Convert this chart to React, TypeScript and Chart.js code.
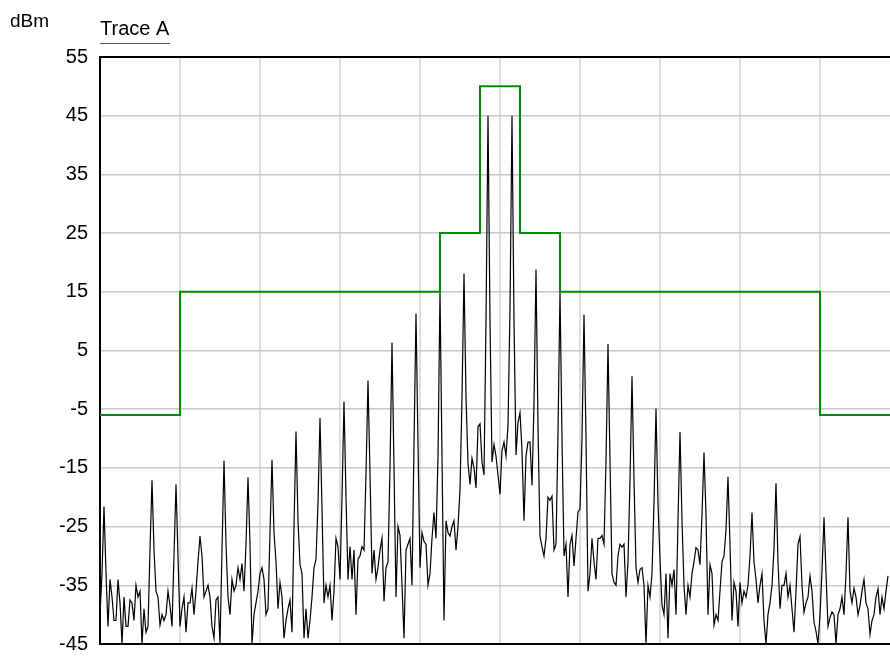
import React, { useEffect, useRef } from 'react';
import { Chart, registerables } from 'chart.js';

Chart.register(...registerables);

// y axis (dBm)
const Y_MIN = -45;
const Y_MAX = 55;
const Y_STEP = 10;

// x axis in grid divisions, centre = 0
const X_MIN = -5;
const X_MAX = 4.875;
const X_STEP = 1;

// limit mask (stepped)
const MASK_X = [-5, -4, -0.75, -0.25, 0.25, 0.75, 4, 4.875];
const MASK_DBM = [-6, 15, 25, 50, 25, 15, -6, -6];

// measured trace, uniformly sampled from X_MIN
const TRACE_START = -5;
const TRACE_STEP = 0.025;
const TRACE_DBM = [
  -40, -33, -21.6, -33, -42, -34, -37, -41, -41, -34,
  -38, -45, -37, -42, -42, -37.5, -38, -41, -35, -37,
  -36, -45, -39, -43, -42, -29, -17.1, -29, -36, -37,
  -41.8, -40, -41, -40, -36, -38.4, -42, -30, -17.8, -30,
  -42, -39, -37, -43, -38, -38, -35.5, -40, -36, -31,
  -26.6, -30, -37, -36, -35, -37, -42, -44, -37.5, -37,
  -45, -29, -13.8, -28, -37, -40, -34, -36, -35, -32,
  -34, -31.3, -36, -28, -16.6, -28, -45, -40, -38, -36,
  -33, -32, -34, -40, -39, -26, -13.6, -26, -31, -39,
  -34.5, -37, -44, -41, -39, -37.5, -43, -25, -8.8, -24,
  -31.5, -33, -44, -39, -44, -41, -37, -32, -30.6, -21,
  -6.5, -22, -38, -35, -37, -35, -41, -36, -27, -28.4,
  -34, -20, -3.7, -20, -34, -28.4, -34, -29, -40, -30.5,
  -30, -28.4, -29, -16, -0.1, -16, -33, -29, -34, -32,
  -29, -27, -37.7, -32, -31, -15, 6.3, -15, -37, -25,
  -26.5, -35, -44, -29, -28, -27, -35, -11, 11.3, -11,
  -32, -26, -27.5, -28, -35, -33, -27, -22.6, -27, -13,
  15.1, -13, -41, -24, -26, -26.6, -25, -24, -29, -25,
  -18.7, -3, 18.1, -3, -14.2, -17.8, -13.4, -15, -18.4, -8,
  -7.5, -14, -16.2, 10, 45, 10, -14, -11, -13, -16.2,
  -19.5, -12, -10.6, -13, -7.8, 12, 45, 10, -12.8, -7.3,
  -5.6, -12, -24, -13, -10.6, -10.6, -18, -4, 18.8, -8,
  -26.6, -28.4, -30, -27, -20, -20.5, -19.8, -29, -28, -9,
  15.1, -10, -30, -28, -37, -28, -26.5, -31.7, -27, -22.5,
  -22, -10, 11.1, -10, -36, -33, -27, -31, -34, -27,
  -27, -26.5, -28, -14, 6.1, -14, -33, -34.5, -35, -30,
  -28, -28.5, -28, -37, -31, -17, 0.6, -17, -32, -34.5,
  -32.3, -32, -35, -45, -35, -37, -33, -21, -4.9, -21,
  -30.6, -38.4, -40, -33, -44, -33, -35, -32.3, -40, -24,
  -8.9, -24, -35, -40, -35, -37, -33, -31, -28.6, -29,
  -31.5, -23, -12.4, -23, -40, -31.5, -33, -41.8, -40, -41,
  -36, -31, -30, -25.6, -16.5, -28, -41, -34.5, -36, -42,
  -34.5, -38, -36, -37, -35, -30, -22.6, -31, -34, -38,
  -35, -33, -41, -45, -40, -38, -35, -28.8, -17.6, -31,
  -39, -35, -35, -33, -37, -35, -39, -43, -36, -28,
  -26.7, -35, -39.6, -38, -37, -33.4, -36, -41.3, -42.8, -45,
  -40, -32.5, -23.4, -33, -42, -40.5, -39.5, -40, -45, -40,
  -39, -37, -40, -33, -23.4, -36, -38, -35.5, -37, -40,
  -38.5, -36, -34, -38, -39, -43.4, -41, -40, -37, -35.6,
  -40, -37, -39, -36, -33.4,
];

const FONT_FAMILY = '"Liberation Sans", Arial, Helvetica, sans-serif';

const headerPlugin = {
  id: 'headerText',
  afterDraw(chart: any) {
    const { ctx, chartArea } = chart;
    ctx.save();
    ctx.fillStyle = '#000';
    ctx.textBaseline = 'alphabetic';
    ctx.textAlign = 'left';
    ctx.font = `19px ${FONT_FAMILY}`;
    ctx.fillText('dBm', 10, 27);
    ctx.font = `20px ${FONT_FAMILY}`;
    ctx.fillText('Trace A', chartArea.left, 35);
    ctx.strokeStyle = '#555';
    ctx.lineWidth = 1;
    ctx.beginPath();
    ctx.moveTo(chartArea.left, 43.5);
    ctx.lineTo(chartArea.left + 70, 43.5);
    ctx.stroke();
    ctx.restore();
  },
};

export default function App() {
  const canvasRef = useRef<HTMLCanvasElement | null>(null);

  useEffect(() => {
    const canvas = canvasRef.current;
    if (!canvas) return;

    const traceData = TRACE_DBM.map((v, i) => ({ x: TRACE_START + i * TRACE_STEP, y: v }));
    const maskData = MASK_X.map((x, i) => ({ x, y: MASK_DBM[i] }));

    const chart = new Chart(canvas, {
      type: 'line',
      data: {
        datasets: [
          {
            label: 'Mask',
            data: maskData,
            borderColor: '#058a05',
            borderWidth: 2,
            stepped: true,
            pointRadius: 0,
            fill: false,
          },
          {
            label: 'Trace A',
            data: traceData,
            borderColor: '#000000',
            borderWidth: 1.2,
            pointRadius: 0,
            tension: 0,
            fill: false,
          },
        ],
      },
      options: {
        animation: false,
        responsive: false,
        devicePixelRatio: 1,
        layout: { padding: { left: 0, right: 0, top: 57, bottom: 12 } },
        plugins: {
          legend: { display: false },
          tooltip: { enabled: false },
          title: { display: false },
        },
        scales: {
          x: {
            type: 'linear',
            min: X_MIN,
            max: X_MAX,
            ticks: { display: false, stepSize: X_STEP },
            grid: { color: '#dedede', lineWidth: 2, drawTicks: false },
            border: { display: true, color: '#000', width: 2 },
            afterBuildTicks: (s: any) => {
              s.ticks = s.ticks.filter((t: any) => Number.isInteger(t.value));
            },
            afterFit: (s: any) => {
              s.height = 0;
            },
          },
          xTop: {
            type: 'linear',
            position: 'top',
            min: X_MIN,
            max: X_MAX,
            ticks: { display: false },
            grid: { display: false, drawTicks: false },
            border: { display: true, color: '#000', width: 2 },
            afterFit: (s: any) => {
              s.height = 0;
            },
          },
          y: {
            type: 'linear',
            min: Y_MIN,
            max: Y_MAX,
            ticks: {
              stepSize: Y_STEP,
              color: '#000',
              padding: 12,
              font: { family: FONT_FAMILY, size: 20 },
            },
            grid: { color: '#c8c8c8', lineWidth: 1.5, drawTicks: false },
            border: { display: true, color: '#000', width: 2 },
            afterFit: (s: any) => {
              s.width = 100;
            },
          },
        },
      },
      plugins: [headerPlugin],
    });

    return () => {
      chart.destroy();
    };
  }, []);

  return (
    <div style={{ position: 'fixed', left: 0, top: 0, width: 890, height: 668, background: '#fff' }}>
      <canvas ref={canvasRef} width={890} height={668} style={{ display: 'block', width: 890, height: 668 }} />
    </div>
  );
}
